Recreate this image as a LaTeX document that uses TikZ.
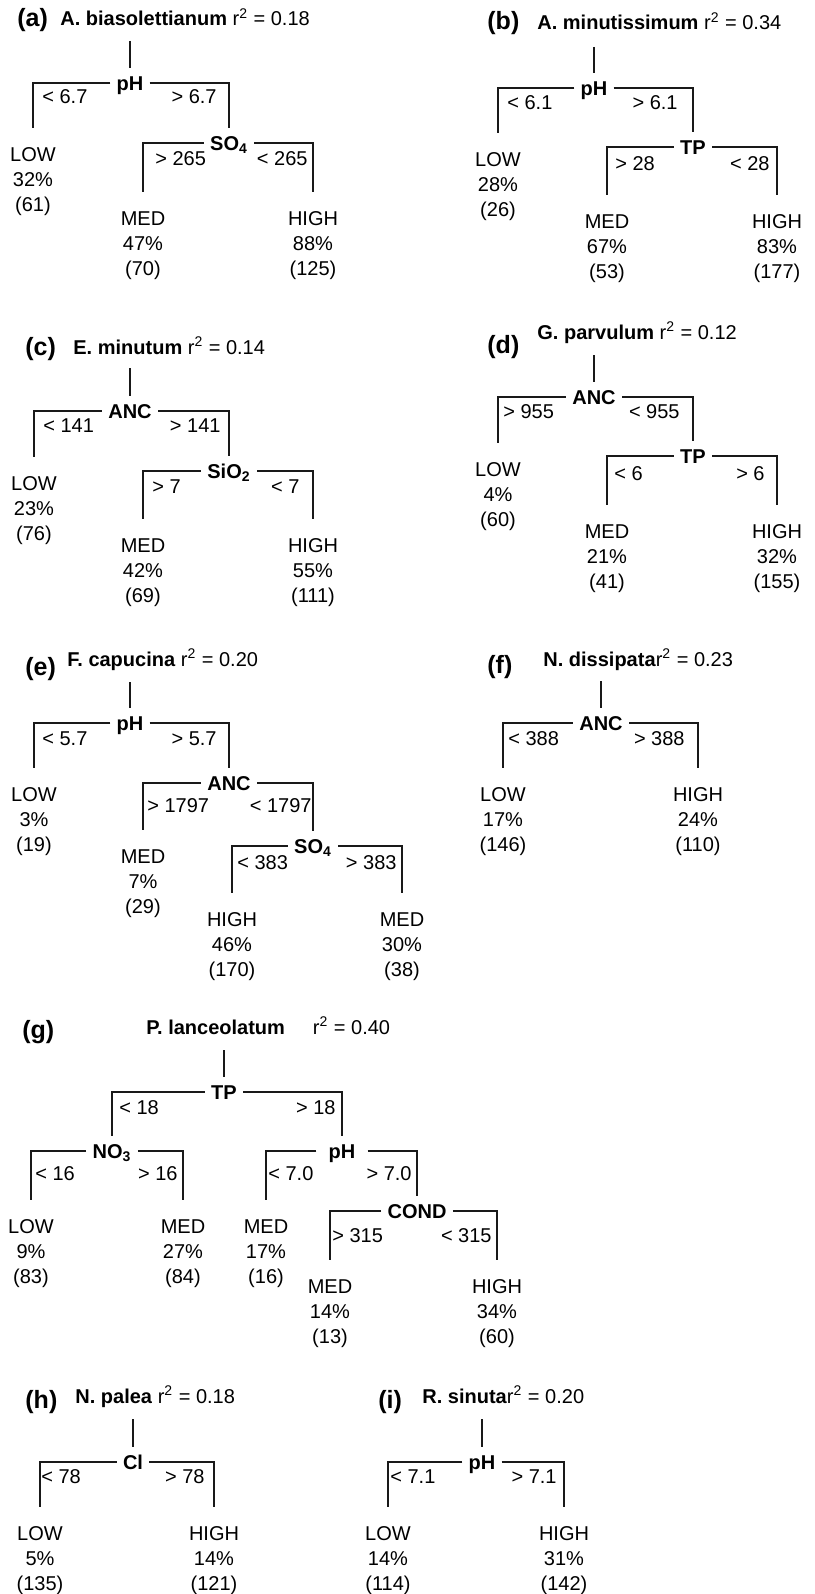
\documentclass[tikz,border=0pt]{standalone}
\usepackage{fontspec}
\setmainfont{Liberation Sans}
\begin{document}
\begin{tikzpicture}[x=0.5pt,y=-0.5pt,
  tree/.style={line width=0.6pt, draw=black!90},
  splitn/.style={font=\fontsize{10}{12}\selectfont\bfseries, inner xsep=3pt, inner ysep=3.9pt, text height=7.2pt, text depth=0pt},
  leafn/.style={font=\fontsize{10}{12.5}\selectfont, align=center, anchor=north, inner xsep=0pt, inner ysep=9.5pt},
  labl/.style={font=\fontsize{10}{12}\selectfont, inner sep=0pt, anchor=base west},
  labr/.style={font=\fontsize{10}{12}\selectfont, inner sep=0pt, anchor=base east},
  titlen/.style={font=\fontsize{10}{12}\selectfont, inner sep=0pt, anchor=base west},
  letter/.style={font=\fontsize{12.5}{14}\selectfont\bfseries, inner sep=0pt, anchor=base west}]
\useasboundingbox (0,0) rectangle (814,1594);

% ---------------- (a)
\node[letter] (aT) at (17,27) {(a)};
\node[titlen] (aN) at (60,26) {\textbf{A. biasolettianum} r\textsuperscript{2} = 0.18};
\coordinate (a0) at (130,41);
\node[splitn] (a1) at (130,83) {pH};
\node[splitn] (a2) at (229,143) {SO\textsubscript{4}};
\node[leafn] (aL) at (33,128) {LOW\\32\%\\(61)};
\node[leafn] (aM) at (143,192) {MED\\47\%\\(70)};
\node[leafn] (aH) at (313,192) {HIGH\\88\%\\(125)};
\node[labl] (a1l) at (42,104) {< 6.7};
\node[labr] (a1r) at (217,104) {> 6.7};
\node[labl] (a2l) at (155,166) {> 265};
\node[labr] (a2r) at (308,166) {< 265};
\draw[tree] (a0) -- (a1.north);
\draw[tree] (a1.west) -| (aL.north);
\draw[tree] (a1.east) -| (a2.north);
\draw[tree] (a2.west) -| (aM.north);
\draw[tree] (a2.east) -| (aH.north);

% ---------------- (b)
\node[letter] (bT) at (487,30) {(b)};
\node[titlen] (bN) at (537,30) {\textbf{A. minutissimum} r\textsuperscript{2} = 0.34};
\coordinate (b0) at (594,47);
\node[splitn] (b1) at (594,88) {pH};
\node[splitn] (b2) at (693,147) {TP};
\node[leafn] (bL) at (498,133) {LOW\\28\%\\(26)};
\node[leafn] (bM) at (607,195) {MED\\67\%\\(53)};
\node[leafn] (bH) at (777,195) {HIGH\\83\%\\(177)};
\node[labl] (b1l) at (507,110) {< 6.1};
\node[labr] (b1r) at (678,110) {> 6.1};
\node[labl] (b2l) at (615,171) {> 28};
\node[labr] (b2r) at (770,171) {< 28};
\draw[tree] (b0) -- (b1.north);
\draw[tree] (b1.west) -| (bL.north);
\draw[tree] (b1.east) -| (b2.north);
\draw[tree] (b2.west) -| (bM.north);
\draw[tree] (b2.east) -| (bH.north);

% ---------------- (c)
\node[letter] (cT) at (25,355) {(c)};
\node[titlen] (cN) at (73,354) {\textbf{E. minutum} r\textsuperscript{2} = 0.14};
\coordinate (c0) at (130,368);
\node[splitn] (c1) at (130,411) {ANC};
\node[splitn] (c2) at (229,471) {SiO\textsubscript{2}};
\node[leafn] (cL) at (34,457) {LOW\\23\%\\(76)};
\node[leafn] (cM) at (143,519) {MED\\42\%\\(69)};
\node[leafn] (cH) at (313,519) {HIGH\\55\%\\(111)};
\node[labl] (c1l) at (43,432) {< 141};
\node[labr] (c1r) at (221,432) {> 141};
\node[labl] (c2l) at (152,493) {> 7};
\node[labr] (c2r) at (300,493) {< 7};
\draw[tree] (c0) -- (c1.north);
\draw[tree] (c1.west) -| (cL.north);
\draw[tree] (c1.east) -| (c2.north);
\draw[tree] (c2.west) -| (cM.north);
\draw[tree] (c2.east) -| (cH.north);

% ---------------- (d)
\node[letter] (dT) at (487,353) {(d)};
\node[titlen] (dN) at (537,339) {\textbf{G. parvulum} r\textsuperscript{2} = 0.12};
\coordinate (d0) at (594,355);
\node[splitn] (d1) at (594,397) {ANC};
\node[splitn] (d2) at (693,456) {TP};
\node[leafn] (dL) at (498,443) {LOW\\4\%\\(60)};
\node[leafn] (dM) at (607,505) {MED\\21\%\\(41)};
\node[leafn] (dH) at (777,505) {HIGH\\32\%\\(155)};
\node[labl] (d1l) at (503,418) {> 955};
\node[labr] (d1r) at (680,418) {< 955};
\node[labl] (d2l) at (614,480) {< 6};
\node[labr] (d2r) at (765,480) {> 6};
\draw[tree] (d0) -- (d1.north);
\draw[tree] (d1.west) -| (dL.north);
\draw[tree] (d1.east) -| (d2.north);
\draw[tree] (d2.west) -| (dM.north);
\draw[tree] (d2.east) -| (dH.north);

% ---------------- (e)
\node[letter] (eT) at (25,675) {(e)};
\node[titlen] (eN) at (67,666) {\textbf{F. capucina} r\textsuperscript{2} = 0.20};
\coordinate (e0) at (130,682);
\node[splitn] (e1) at (130,723) {pH};
\node[splitn] (e2) at (229,783) {ANC};
\node[splitn] (e3) at (313,846) {SO\textsubscript{4}};
\node[leafn] (eL) at (34,768) {LOW\\3\%\\(19)};
\node[leafn] (eM) at (143,830) {MED\\7\%\\(29)};
\node[leafn] (eH) at (232,893) {HIGH\\46\%\\(170)};
\node[leafn] (eM2) at (402,893) {MED\\30\%\\(38)};
\node[labl] (e1l) at (42,745) {< 5.7};
\node[labr] (e1r) at (217,745) {> 5.7};
\node[labl] (e2l) at (147,812) {> 1797};
\node[labr] (e2r) at (312,812) {< 1797};
\node[labl] (e3l) at (237,869) {< 383};
\node[labr] (e3r) at (397,869) {> 383};
\draw[tree] (e0) -- (e1.north);
\draw[tree] (e1.west) -| (eL.north);
\draw[tree] (e1.east) -| (e2.north);
\draw[tree] (e2.west) -| (eM.north);
\draw[tree] (e2.east) -| (e3.north);
\draw[tree] (e3.west) -| (eH.north);
\draw[tree] (e3.east) -| (eM2.north);

% ---------------- (f)
\node[letter] (fT) at (487,673) {(f)};
\node[titlen] (fN) at (543,666) {\textbf{N. dissipata}r\textsuperscript{2} = 0.23};
\coordinate (f0) at (601,681);
\node[splitn] (f1) at (601,723) {ANC};
\node[leafn] (fL) at (503,768) {LOW\\17\%\\(146)};
\node[leafn] (fH) at (698,768) {HIGH\\24\%\\(110)};
\node[labl] (f1l) at (508,745) {< 388};
\node[labr] (f1r) at (685,745) {> 388};
\draw[tree] (f0) -- (f1.north);
\draw[tree] (f1.west) -| (fL.north);
\draw[tree] (f1.east) -| (fH.north);

% ---------------- (g)
\node[letter] (gT) at (22,1038) {(g)};
\node[titlen] (gN) at (146,1034) {\textbf{P. lanceolatum}\hspace{14pt}r\textsuperscript{2} = 0.40};
\coordinate (g0) at (224,1050);
\node[splitn] (g1) at (224,1092) {TP};
\node[splitn] (g2) at (112,1151) {NO\textsubscript{3}};
\node[splitn, inner xsep=6pt] (g3) at (342,1151) {pH};
\node[splitn] (g4) at (417,1211) {COND};
\node[leafn] (gL) at (31,1200) {LOW\\9\%\\(83)};
\node[leafn] (gM) at (183,1200) {MED\\27\%\\(84)};
\node[leafn] (gM2) at (266,1200) {MED\\17\%\\(16)};
\node[leafn] (gM3) at (330,1260) {MED\\14\%\\(13)};
\node[leafn] (gH) at (497,1260) {HIGH\\34\%\\(60)};
\node[labl] (g1l) at (119,1114) {< 18};
\node[labr] (g1r) at (336,1114) {> 18};
\node[labl] (g2l) at (35,1180) {< 16};
\node[labr] (g2r) at (178,1180) {> 16};
\node[labl] (g3l) at (268,1180) {< 7.0};
\node[labr] (g3r) at (412,1180) {> 7.0};
\node[labl] (g4l) at (332,1242) {> 315};
\node[labr] (g4r) at (492,1242) {< 315};
\draw[tree] (g0) -- (g1.north);
\draw[tree] (g1.west) -| (g2.north);
\draw[tree] (g1.east) -| (g3.north);
\draw[tree] (g2.west) -| (gL.north);
\draw[tree] (g2.east) -| (gM.north);
\draw[tree] (g3.west) -| (gM2.north);
\draw[tree] (g3.east) -| (g4.north);
\draw[tree] (g4.west) -| (gM3.north);
\draw[tree] (g4.east) -| (gH.north);

% ---------------- (h)
\node[letter] (hT) at (25,1408) {(h)};
\node[titlen] (hN) at (75,1403) {\textbf{N. palea} r\textsuperscript{2} = 0.18};
\coordinate (h0) at (133,1419);
\node[splitn] (h1) at (133,1462) {Cl};
\node[leafn] (hL) at (40,1507) {LOW\\5\%\\(135)};
\node[leafn] (hH) at (214,1507) {HIGH\\14\%\\(121)};
\node[labl] (h1l) at (41,1483) {< 78};
\node[labr] (h1r) at (205,1483) {> 78};
\draw[tree] (h0) -- (h1.north);
\draw[tree] (h1.west) -| (hL.north);
\draw[tree] (h1.east) -| (hH.north);

% ---------------- (i)
\node[letter] (iT) at (378,1408) {(i)};
\node[titlen] (iN) at (422,1403) {\textbf{R. sinuta}r\textsuperscript{2} = 0.20};
\coordinate (i0) at (482,1419);
\node[splitn] (i1) at (482,1462) {pH};
\node[leafn] (iL) at (388,1507) {LOW\\14\%\\(114)};
\node[leafn] (iH) at (564,1507) {HIGH\\31\%\\(142)};
\node[labl] (i1l) at (390,1483) {< 7.1};
\node[labr] (i1r) at (557,1483) {> 7.1};
\draw[tree] (i0) -- (i1.north);
\draw[tree] (i1.west) -| (iL.north);
\draw[tree] (i1.east) -| (iH.north);
\end{tikzpicture}
\end{document}
